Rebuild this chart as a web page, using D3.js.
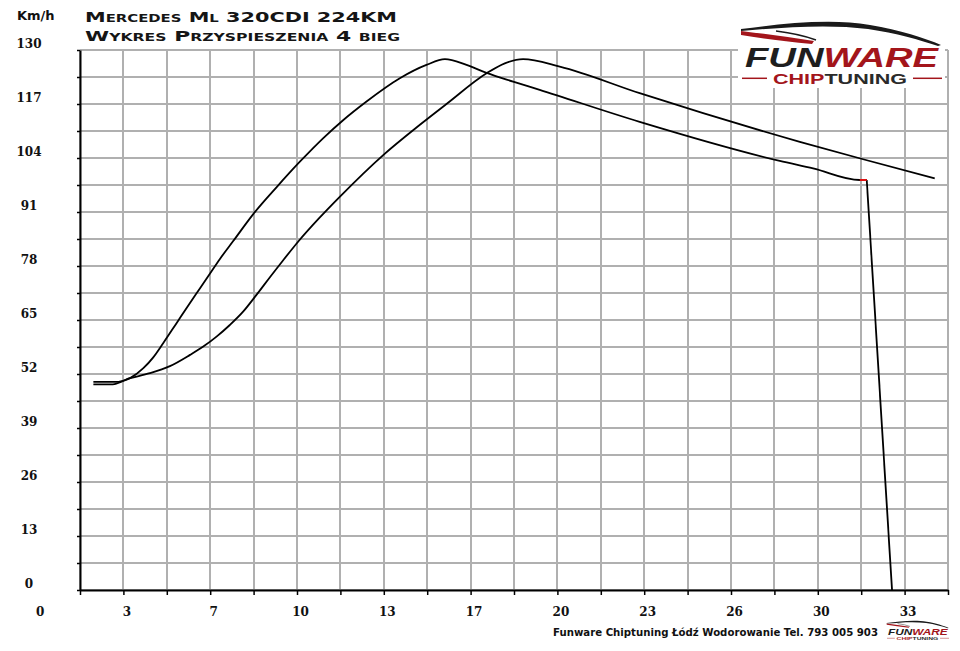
<!DOCTYPE html>
<html>
<head>
<meta charset="utf-8">
<script src="https://cdn.jsdelivr.net/npm/d3@7"></script>
<style>
  body { margin: 0; background: #fff; }
  svg { display: block; }
</style>
</head>
<body>
<script>
// values (time in s, speed in km/h)
const titleLines = ["Mercedes Ml 320CDI 224KM", "Wykres Przyspieszenia 4 bieg"];
const yLabels = [0, 13, 26, 39, 52, 65, 78, 91, 104, 117, 130];
const xLabels = ["0", "3", "7", "10", "13", "17", "20", "23", "26", "30", "33"];

const timeA  = [2.18, 2.93, 3.28, 3.59, 4.10, 4.48, 4.86, 5.38, 5.89, 6.27, 6.66, 7.04, 7.55, 8.32, 9.22, 10.11, 11.01, 11.77, 12.67, 13.95, 14.97, 15.68, 16.51, 17.28, 18.30, 19.32, 23.16, 28.54, 29.82, 31.61, 31.88, 32.85];
const speedA = [49.5, 49.5, 50.2, 51.0, 53.4, 56.0, 59.4, 64.3, 69.1, 72.6, 76.2, 79.7, 84.0, 90.5, 97.0, 103.1, 108.8, 113.1, 117.6, 123.2, 126.4, 127.8, 126.4, 124.5, 122.4, 120.4, 112.7, 103.3, 101.5, 98.7, 98.7, 0];

const timeB  = [2.18, 3.09, 3.59, 4.35, 5.12, 5.89, 6.40, 6.91, 7.42, 7.93, 8.45, 8.96, 9.47, 10.05, 10.85, 11.65, 13.31, 14.72, 15.74, 17.28, 17.98, 18.68, 20.09, 23.16, 29.31, 31.74, 34.49];
const speedB = [50.1, 50.1, 51.0, 52.2, 53.9, 56.6, 58.6, 61.0, 63.8, 67.0, 71.1, 75.3, 79.4, 83.9, 89.5, 94.7, 104.7, 112.0, 117.0, 124.4, 126.8, 127.8, 126.0, 119.6, 107.9, 103.7, 99.1];

const W = 960, H = 651;
const svg = d3.select("body").append("svg").attr("width", W).attr("height", H)
  .style("background", "#fff");

const x = d3.scaleLinear().domain([5 / 3, 35]).range([80, 948]);
const y = d3.scaleLinear().domain([0, 130]).range([590, 50]);

// grid
const vGrid = d3.range(1, 22).map(k => k * 5 / 3);
const hGrid = d3.range(0, 21).map(k => k * 6.5);
const grid = svg.append("g").attr("shape-rendering", "crispEdges");
vGrid.forEach(d => {
  grid.append("line")
    .attr("x1", Math.round(x(d))).attr("x2", Math.round(x(d)))
    .attr("y1", y(130)).attr("y2", y(0))
    .style("stroke", "#b0b0b0").style("stroke-width", "1.5px");
});
hGrid.forEach(d => {
  grid.append("line")
    .attr("x1", x(5 / 3)).attr("x2", x(35))
    .attr("y1", Math.round(y(d))).attr("y2", Math.round(y(d)))
    .style("stroke", "#b0b0b0").style("stroke-width", "1.5px");
});

// axes
const xAxis = d3.axisBottom(x).tickValues(vGrid).tickSize(5).tickSizeOuter(0).tickFormat("");
const yAxis = d3.axisLeft(y).tickValues(hGrid).tickSize(3).tickSizeOuter(0).tickFormat("");
const gx = svg.append("g").attr("transform", `translate(0,${y(0)})`).call(xAxis);
const gy = svg.append("g").attr("transform", `translate(${x(5 / 3)},0)`).call(yAxis);
[gx, gy].forEach(g => {
  g.select(".domain").attr("stroke", "#000").attr("stroke-width", 2);
  g.selectAll(".tick line").attr("stroke", "#000").attr("stroke-width", 1.5);
});

// tick labels
const labelFont = "'DejaVu Serif', serif";
svg.append("g").selectAll("text").data(yLabels).join("text")
  .attr("x", 29).attr("y", d => y(d) - 2.5)
  .attr("text-anchor", "middle")
  .attr("font-family", labelFont).attr("font-weight", "bold").attr("font-size", 12)
  .attr("fill", "#111").text(d => d);
svg.append("g").selectAll("text").data(xLabels).join("text")
  .attr("x", (d, i) => x(i * 10 / 3) + 3.5).attr("y", 616)
  .attr("text-anchor", "middle")
  .attr("font-family", labelFont).attr("font-weight", "bold").attr("font-size", 12)
  .attr("fill", "#111").text(d => d);

svg.append("text").attr("x", 17).attr("y", 20)
  .attr("font-family", "'DejaVu Sans', sans-serif").attr("font-weight", "bold").attr("font-size", 13)
  .attr("fill", "#111").text("Km/h");

// title
svg.append("g").selectAll("text").data(titleLines).join("text")
  .attr("x", 85).attr("y", (d, i) => 21.5 + i * 19)
  .attr("textLength", (d, i) => i === 0 ? 312 : 315).attr("lengthAdjust", "spacingAndGlyphs")
  .attr("font-family", "'DejaVu Sans', sans-serif").attr("font-weight", "bold").attr("font-size", 14)
  .style("font-variant", "small-caps").attr("fill", "#151515")
  .text(d => d);

// curves
const smooth = d3.line().x(d => x(d[0])).y(d => y(d[1])).curve(d3.curveMonotoneX);
const straight = d3.line().x(d => x(d[0])).y(d => y(d[1]));
const seriesA = timeA.map((t, i) => [t, speedA[i]]);
const seriesB = timeB.map((t, i) => [t, speedB[i]]);
const n = seriesA.length;
const curves = svg.append("g").attr("fill", "none").attr("stroke", "#000")
  .attr("stroke-width", 1.8).attr("stroke-linejoin", "round");
curves.append("path").attr("d", smooth(seriesA.slice(0, n - 1)));
curves.append("path").attr("d", straight(seriesA.slice(n - 2)));
curves.append("path").attr("d", smooth(seriesB));
// red cut-off marker on curve A
svg.append("path").attr("d", straight(seriesA.slice(n - 3, n - 1)))
  .attr("stroke", "#e01010").attr("stroke-width", 2).attr("fill", "none");

// logo
function drawLogo(g) {
  g.append("path")
    .attr("d", "M741,29 C780,24 830,18 870,25 C900,30 925,38 941,45 L938,46 C920,40 896,33 868,29 C830,24 785,27 741,31 Z")
    .attr("fill", "#1a1a1a");
  g.append("path").attr("d", "M776,31 Q800,34 816,40")
    .attr("fill", "none").attr("stroke", "#1a1a1a").attr("stroke-width", 1.5);
  g.append("path").attr("d", "M741,31 Q775,35 814,41 L812,44 Q772,40 741,35 Z")
    .attr("fill", "#a3151b");
  const t = g.append("text").attr("x", 745).attr("y", 66.5)
    .attr("textLength", 193).attr("lengthAdjust", "spacingAndGlyphs")
    .attr("font-family", "'Liberation Sans', Arial, sans-serif").attr("font-weight", "bold")
    .attr("font-style", "italic").attr("font-size", 27);
  t.append("tspan").attr("fill", "#1e1e1e").text("FUN");
  t.append("tspan").attr("fill", "#a3151b").text("WARE");
  const c = g.append("text").attr("x", 773).attr("y", 84)
    .attr("textLength", 134).attr("lengthAdjust", "spacingAndGlyphs")
    .attr("font-family", "'Liberation Sans', Arial, sans-serif").attr("font-weight", "bold")
    .attr("font-size", 14);
  c.append("tspan").attr("fill", "#a3151b").text("CHIP");
  c.append("tspan").attr("fill", "#2a2a2a").text("TUNING");
  g.append("line").attr("x1", 742).attr("x2", 767).attr("y1", 78.3).attr("y2", 78.3)
    .attr("stroke", "#a3151b").attr("stroke-width", 1.5);
  g.append("line").attr("x1", 913).attr("x2", 942).attr("y1", 78.3).attr("y2", 78.3)
    .attr("stroke", "#a3151b").attr("stroke-width", 1.5);
}
svg.append("rect").attr("x", 738).attr("y", 18).attr("width", 207).attr("height", 70).attr("fill", "#fff");
drawLogo(svg.append("g"));
drawLogo(svg.append("g").attr("transform", "translate(657,614) scale(0.31)"));

// footer
svg.append("text").attr("x", 553).attr("y", 636)
  .attr("textLength", 325).attr("lengthAdjust", "spacingAndGlyphs")
  .attr("font-family", "'DejaVu Sans', sans-serif").attr("font-weight", "bold").attr("font-size", 11)
  .attr("fill", "#111").text("Funware Chiptuning Łódź Wodorowanie Tel. 793 005 903");
</script>
</body>
</html>
